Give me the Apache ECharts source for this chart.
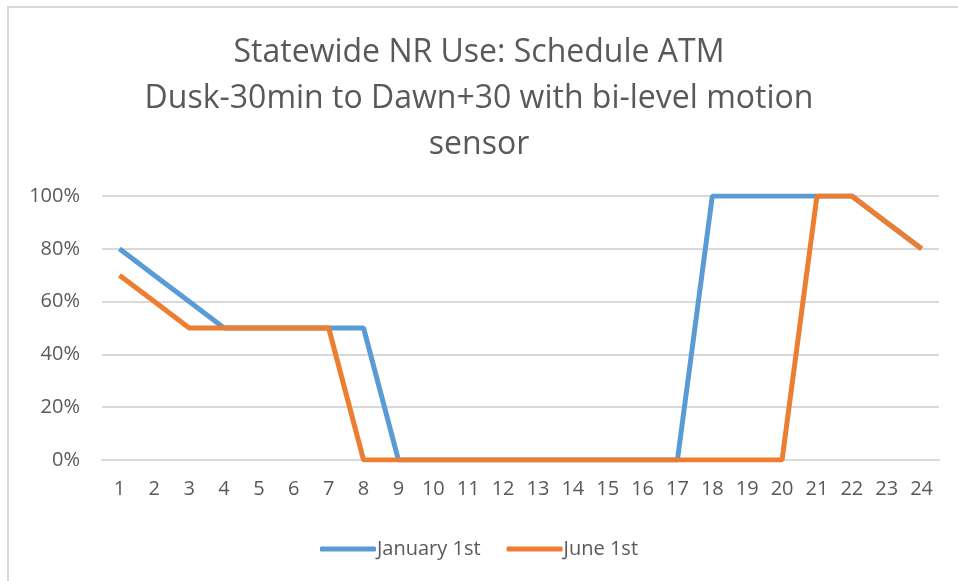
<!DOCTYPE html>
<html>
<head>
<meta charset="utf-8">
<script src="https://cdn.jsdelivr.net/npm/echarts@6/dist/echarts.min.js"></script>
<style>
  html,body{margin:0;padding:0;background:#fff;}
  #frame{position:absolute;left:7px;top:6px;width:951px;height:575px;border-left:2px solid #d9d9d9;border-top:2px solid #d9d9d9;box-sizing:border-box;}
  #chart{position:absolute;left:0;top:0;width:958px;height:581px;}
</style>
</head>
<body>
<div id="frame"></div>
<div id="chart"></div>
<script>
// hours 1..24
var hours=["1","2","3","4","5","6","7","8","9","10","11","12","13","14","15","16","17","18","19","20","21","22","23","24"]
var january=[80,70,60,50,50,50,50,50,0,0,0,0,0,0,0,0,0,100,100,100,100,100,90,80]
var june=[70,60,50,50,50,50,50,0,0,0,0,0,0,0,0,0,0,0,0,0,100,100,90,80]
var yTicks=[0,20,40,60,80,100]

window.onload=()=>{
    let myChart=echarts.init(document.getElementById('chart'))
    let font='"Open Sans", sans-serif'
    let option={
        animation:false,
        title:{
            text:'Statewide NR Use: Schedule ATM\nDusk-30min to Dawn+30 with bi-level motion\nsensor',
            left:'center',
            top:25,
            textStyle:{
                fontFamily:font,
                fontSize:32,
                fontWeight:'normal',
                color:'#595959',
                lineHeight:46
            }
        },
        legend:{
            top:534,
            left:'center',
            itemWidth:56,
            itemHeight:5,
            itemGap:26,
            icon:'roundRect',
            textStyle:{fontFamily:font,fontSize:20,color:'#595959',padding:[0,0,0,-4]},
            data:['January 1st','June 1st']
        },
        grid:{left:102,right:19,top:196,bottom:121},
        xAxis:{
            type:'category',
            data:hours,
            boundaryGap:true,
            axisLine:{lineStyle:{color:'#d9d9d9',width:2}},
            axisTick:{show:false},
            axisLabel:{fontFamily:font,fontSize:20,color:'#595959',margin:19,interval:0}
        },
        yAxis:{
            type:'value',
            min:yTicks[0],
            max:yTicks[yTicks.length-1],
            interval:20,
            axisLine:{show:false},
            axisTick:{show:false},
            splitLine:{lineStyle:{color:'#d9d9d9',width:2}},
            axisLabel:{fontFamily:font,fontSize:20,color:'#595959',margin:22,formatter:'{value}%'}
        },
        series:[{
            name:'January 1st',
            type:'line',
            data:january,
            symbol:'none',
            color:'#5b9bd5',
            lineStyle:{width:5,color:'#5b9bd5'}
        },{
            name:'June 1st',
            type:'line',
            data:june,
            symbol:'none',
            color:'#ed7d31',
            lineStyle:{width:5,color:'#ed7d31'}
        }]
    }
    myChart.setOption(option)
}
</script>
</body>
</html>
